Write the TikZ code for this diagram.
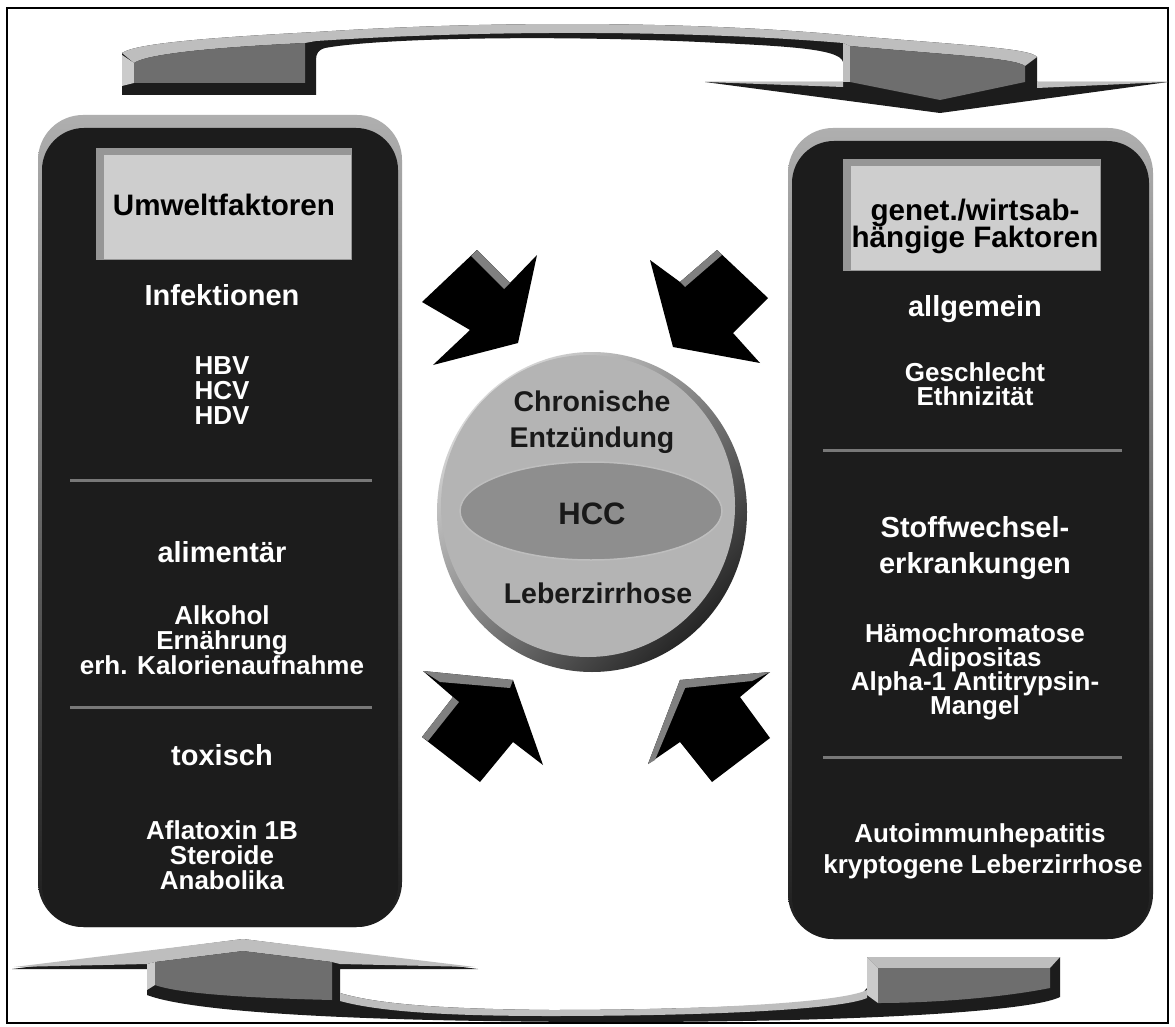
\documentclass[tikz,border=0pt]{standalone}
\usepackage{fontspec}
\setmainfont{Liberation Sans}
\begin{document}
\begin{tikzpicture}[x=1pt,y=-1pt,
  headtext/.style={text=white,anchor=base,inner sep=0pt,outer sep=0pt,font=\bfseries\fontsize{29}{34}\selectfont},
  itemtext/.style={text=white,anchor=base,inner sep=0pt,outer sep=0pt,font=\bfseries\fontsize{26}{30}\selectfont},
  boxtext/.style={text=black,anchor=base,inner sep=0pt,outer sep=0pt,font=\bfseries\fontsize{29.6}{34}\selectfont},
  disctext/.style={text=black!90,anchor=base,inner sep=0pt,outer sep=0pt,font=\bfseries\fontsize{28.5}{34}\selectfont}]
\definecolor{panelColor}{RGB}{28,28,28}
\definecolor{bevelColor}{RGB}{175,175,175}
\definecolor{boxColor}{RGB}{206,206,206}
\definecolor{boxShade}{RGB}{150,150,150}
\definecolor{lineColor}{RGB}{120,120,120}
\definecolor{faceColor}{RGB}{110,110,110}
\definecolor{lightColor}{RGB}{190,190,190}
\definecolor{discColor}{RGB}{180,180,180}
\definecolor{ovalColor}{RGB}{142,142,142}
\path[use as bounding box,fill=white] (0,0) rectangle (1175,1027);
\path[draw=black,line width=2.5pt] (7,8) rectangle (1168,1023);

% upper curved arrow
\path[fill=panelColor] (122,53) .. controls (135,44) and (200,38) .. (316,32)
  .. controls (500,20) and (700,22) .. (843,35) .. controls (960,45) and (1030,48) .. (1037,57)
  -- (1037,82) -- (1168,82) -- (940,113) -- (705,82) -- (843,82) -- (843,62)
  .. controls (840,48) and (780,46) .. (700,42) .. controls (550,35) and (380,38) .. (325,48)
  .. controls (318,50) and (316,54) .. (316,60) -- (316,95) -- (122,95) -- cycle;
\path[fill=lightColor] (122,53) .. controls (135,44) and (200,38) .. (316,32)
  .. controls (500,20) and (700,22) .. (843,35) .. controls (960,45) and (1030,48) .. (1037,57)
  -- (1025,66) .. controls (1015,58) and (950,55) .. (850,46) -- (843,43)
  .. controls (700,31) and (500,29) .. (316,41) -- (305,43)
  .. controls (200,48) and (145,55) .. (134,63) -- cycle;
\path[fill=lightColor!80!white] (122,55) -- (134,63) -- (134,83) -- (122,86) -- cycle;
\path[fill=faceColor] (134,63) .. controls (145,55) and (200,48) .. (305,43) -- (305,83) -- (134,83) -- cycle;
\path[fill=lightColor] (843,43) -- (850,46) -- (850,82) -- (843,82) -- cycle;
\path[fill=faceColor] (850,46) .. controls (950,55) and (1015,58) .. (1025,66) -- (1025,82) -- (940,100) -- (850,82) -- cycle;
\path[fill=lightColor] (705,82) -- (843,82) -- (843,87) -- cycle;
\path[fill=lightColor] (1037,82) -- (1168,82) -- (1037,88) -- cycle;

% lower curved arrow
\path[fill=panelColor] (243,939) -- (478,969) -- (340,969) -- (340,993)
  .. controls (380,1005) and (450,1009) .. (550,1010) .. controls (700,1010) and (840,1003) .. (860,996)
  -- (867,988) -- (867,957) -- (1060,957) -- (1060,997)
  .. controls (1030,1012) and (850,1022) .. (620,1022) .. controls (400,1022) and (200,1015) .. (147,995)
  -- (147,969) -- (12,969) -- cycle;
\path[fill=lightColor] (340,993) .. controls (380,1005) and (450,1009) .. (550,1010)
  .. controls (700,1010) and (840,1003) .. (867,990) -- (867,998)
  .. controls (840,1010) and (700,1016) .. (550,1016) .. controls (450,1016) and (380,1012) .. (340,1001) -- cycle;
\path[fill=lightColor] (14,967) -- (243,939) -- (475,967) -- (340,964) -- (332,962) -- (243,951) -- (155,962) -- (147,964) -- cycle;
\path[fill=lightColor!80!white] (147,964) -- (155,962) -- (155,985) -- (147,990) -- cycle;
\path[fill=faceColor] (155,962) -- (243,951) -- (332,962) -- (332,1000) .. controls (250,998) and (180,994) .. (155,985) -- cycle;
\path[fill=lightColor] (867,957) -- (1060,957) -- (1050,968) -- (878,968) -- cycle;
\path[fill=lightColor!80!white] (867,957) -- (878,968) -- (878,1003) -- (867,995) -- cycle;
\path[fill=faceColor] (878,968) -- (1050,968) -- (1050,988) .. controls (1000,998) and (930,1003) .. (878,1003) -- cycle;

% left panel
\path[rounded corners=45pt,top color=bevelColor,middle color=panelColor!80!bevelColor,bottom color=panelColor] (38,115) rectangle (402,927);
\path[rounded corners=42pt,fill=panelColor] (42,128) rectangle (398,927);
\path[fill=boxShade] (96,148) rectangle (352,260);
\path[fill=boxColor] (104,155) rectangle (351,259);
\path[draw=lineColor,line width=3pt] (70,480) -- (372,480);
\path[draw=lineColor,line width=3pt] (70,707) -- (372,707);

\node[boxtext] (umwelt) at (224,215.5) {Umweltfaktoren};
\node[headtext] (infekt) at (222,305) {Infektionen};
\node[itemtext] (hbv) at (222,374) {HBV};
\node[itemtext] (hcv) at (222,399) {HCV};
\node[itemtext] (hdv) at (222,424) {HDV};
\node[headtext] (aliment) at (222,562) {alimentär};
\node[itemtext] (alkohol) at (222,624) {Alkohol};
\node[itemtext] (ernaehr) at (222,649) {Ernährung};
\node[itemtext] (kalorie) at (222,674) {erh. Kalorienaufnahme};
\node[headtext] (toxisch) at (222,765) {toxisch};
\node[itemtext] (aflatox) at (222,839) {Aflatoxin 1B};
\node[itemtext] (steroid) at (222,864) {Steroide};
\node[itemtext] (anabol) at (222,889) {Anabolika};

% right panel
\path[rounded corners=45pt,top color=bevelColor,middle color=panelColor!80!bevelColor,bottom color=panelColor] (788,128) rectangle (1153,939);
\path[rounded corners=42pt,fill=panelColor] (792,141) rectangle (1149,939);
\path[fill=boxShade] (843,159) rectangle (1101,271);
\path[fill=boxColor] (851,166) rectangle (1100,270);
\path[draw=lineColor,line width=3pt] (823,450) -- (1122,450);
\path[draw=lineColor,line width=3pt] (823,757) -- (1122,757);

\node[boxtext] (genet) at (975,220.5) {genet./wirtsab-};
\node[boxtext] (wirt) at (975,247.5) {hängige Faktoren};
\node[headtext] (allgem) at (975,316) {allgemein};
\node[itemtext] (geschl) at (975,381) {Geschlecht};
\node[itemtext] (ethnie) at (975,405) {Ethnizität};
\node[headtext] (stoffw) at (975,537) {Stoffwechsel-};
\node[headtext] (erkrank) at (975,573) {erkrankungen};
\node[itemtext] (haemo) at (975,642) {Hämochromatose};
\node[itemtext] (adipos) at (975,666) {Adipositas};
\node[itemtext] (alpha) at (975,690) {Alpha-1 Antitrypsin-};
\node[itemtext] (mangel) at (975,714) {Mangel};
\node[itemtext] (autoimm) at (980,842) {Autoimmunhepatitis};
\node[itemtext] (krypto) at (983,873) {kryptogene Leberzirrhose};

% black arrows towards the centre
\path[fill=black] (422,302) -- (477,250) -- (510,283) -- (537,255) -- (518,343) -- (433,365) -- (470,330) -- cycle;
\path[fill=gray] (477,250) -- (510,283) -- (504,289) -- (471,256) -- cycle;
\path[fill=black] (650,260) -- (680,282) -- (717,250) -- (768,298) -- (733,333) -- (760,363) -- (673,347) -- cycle;
\path[fill=gray] (680,282) -- (717,250) -- (722,255) -- (685,287) -- cycle;
\path[fill=black] (423,671) -- (513,680) -- (543,765) -- (513,742) -- (480,782) -- (422,737) -- (453,697) -- cycle;
\path[fill=gray] (423,671) -- (513,680) -- (510,688) -- (440,682) -- cycle;
\path[fill=gray] (453,697) -- (422,737) -- (428,741) -- (459,702) -- cycle;
\path[fill=black] (770,672) -- (680,680) -- (648,764) -- (680,742) -- (712,782) -- (770,738) -- (740,697) -- cycle;
\path[fill=gray] (680,680) -- (770,672) -- (752,681) -- (684,688) -- cycle;
\path[fill=gray] (680,680) -- (648,764) -- (655,760) -- (686,686) -- cycle;

% centre disc
\path[top color=white!85!black,bottom color=black!85,shading angle=45] (592,512) ellipse [x radius=155,y radius=160];
\path[fill=discColor] (588,506) ellipse [x radius=147,y radius=151];
\path[fill=ovalColor,draw=lightColor,line width=1.5pt] (591,511) ellipse [x radius=131,y radius=49];
\node[disctext] (chron) at (592,411) {Chronische};
\node[disctext] (entz) at (592,447) {Entzündung};
\node[disctext,font=\bfseries\fontsize{31}{36}\selectfont] (hcc) at (592,524) {HCC};
\node[disctext] (leber) at (598,603) {Leberzirrhose};
\end{tikzpicture}
\end{document}
